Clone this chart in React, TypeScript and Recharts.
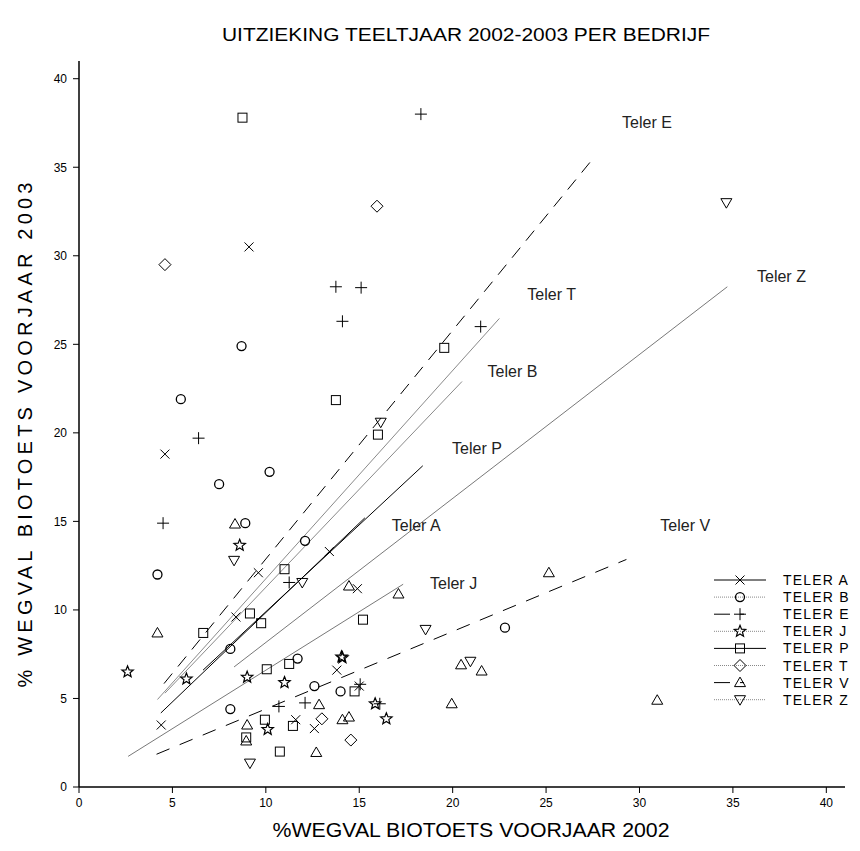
import React from 'react'
import {
  ScatterChart,
  Scatter,
  XAxis,
  YAxis,
  ReferenceLine,
  ReferenceDot,
} from 'recharts'

type Pt = { x: number; y: number }

// metingen per teler: x = % wegval 2002, y = % wegval 2003
const telerA: Pt[] = [
  { x: 9.1, y: 30.5 }, { x: 4.6, y: 18.8 }, { x: 13.4, y: 13.3 }, { x: 9.6, y: 12.1 },
  { x: 8.4, y: 9.6 }, { x: 4.4, y: 3.5 }, { x: 13.8, y: 6.6 }, { x: 11.6, y: 3.8 },
  { x: 12.6, y: 3.3 }, { x: 14.9, y: 11.2 }, { x: 15.0, y: 5.7 },
]
const telerB: Pt[] = [
  { x: 4.2, y: 12.0 }, { x: 5.45, y: 21.9 }, { x: 7.5, y: 17.1 }, { x: 8.1, y: 7.8 },
  { x: 8.1, y: 4.4 }, { x: 8.7, y: 24.9 }, { x: 8.9, y: 14.9 }, { x: 10.2, y: 17.8 },
  { x: 12.1, y: 13.9 }, { x: 11.7, y: 7.25 }, { x: 12.6, y: 5.7 }, { x: 14.0, y: 5.4 },
  { x: 22.8, y: 9.0 },
]
const telerE: Pt[] = [
  { x: 18.3, y: 38.0 }, { x: 13.75, y: 28.25 }, { x: 15.1, y: 28.2 }, { x: 14.1, y: 26.3 },
  { x: 21.5, y: 26.0 }, { x: 6.4, y: 19.7 }, { x: 4.5, y: 14.9 }, { x: 11.25, y: 11.55 },
  { x: 10.7, y: 4.55 }, { x: 12.1, y: 4.75 }, { x: 15.05, y: 5.8 }, { x: 16.1, y: 4.7 },
]
const telerJ: Pt[] = [
  { x: 2.6, y: 6.5 }, { x: 8.6, y: 13.65 }, { x: 5.75, y: 6.1 }, { x: 9.0, y: 6.2 },
  { x: 11.0, y: 5.9 }, { x: 10.1, y: 3.25 }, { x: 14.05, y: 7.35 }, { x: 14.1, y: 7.3 },
  { x: 15.85, y: 4.7 }, { x: 16.45, y: 3.85 },
]
const telerP: Pt[] = [
  { x: 8.75, y: 37.8 }, { x: 19.55, y: 24.8 }, { x: 13.75, y: 21.85 }, { x: 16.0, y: 19.9 },
  { x: 11.0, y: 12.3 }, { x: 9.15, y: 9.8 }, { x: 6.65, y: 8.7 }, { x: 9.75, y: 9.25 },
  { x: 10.05, y: 6.65 }, { x: 11.25, y: 6.95 }, { x: 9.95, y: 3.8 }, { x: 11.45, y: 3.45 },
  { x: 8.95, y: 2.8 }, { x: 10.75, y: 2.0 }, { x: 14.75, y: 5.4 }, { x: 15.2, y: 9.45 },
]
const telerT: Pt[] = [
  { x: 4.6, y: 29.5 }, { x: 15.95, y: 32.8 }, { x: 13.0, y: 3.85 }, { x: 14.55, y: 2.65 },
]
const telerV: Pt[] = [
  { x: 8.35, y: 14.85 }, { x: 4.2, y: 8.7 }, { x: 14.45, y: 11.35 }, { x: 17.1, y: 10.9 },
  { x: 25.15, y: 12.1 }, { x: 20.45, y: 6.9 }, { x: 21.55, y: 6.55 }, { x: 19.95, y: 4.7 },
  { x: 12.85, y: 4.65 }, { x: 14.1, y: 3.8 }, { x: 14.45, y: 3.95 }, { x: 12.7, y: 1.95 },
  { x: 9.0, y: 3.5 }, { x: 8.95, y: 2.6 }, { x: 30.95, y: 4.9 },
]
const telerZ: Pt[] = [
  { x: 34.65, y: 33.0 }, { x: 16.15, y: 20.6 }, { x: 8.3, y: 12.8 }, { x: 11.95, y: 11.55 },
  { x: 18.55, y: 8.9 }, { x: 20.95, y: 7.1 }, { x: 9.15, y: 1.35 },
]

const fitA = [{ x: 4.38, y: 4.18 }, { x: 15.3, y: 15.2 }]
const fitB = [{ x: 4.2, y: 4.94 }, { x: 22.5, y: 26.46 }]
const fitE = [{ x: 4.55, y: 5.84 }, { x: 27.6, y: 35.6 }]
const fitJ = [{ x: 2.63, y: 1.73 }, { x: 17.35, y: 11.45 }]
const fitP = [{ x: 6.64, y: 6.6 }, { x: 18.4, y: 18.14 }]
const fitT = [{ x: 4.6, y: 5.3 }, { x: 20.5, y: 22.9 }]
const fitV = [{ x: 4.15, y: 1.85 }, { x: 29.3, y: 12.85 }]
const fitZ = [{ x: 8.3, y: 6.78 }, { x: 34.7, y: 28.25 }]

const lineLabels = ['Teler E', 'Teler T', 'Teler Z', 'Teler B', 'Teler  P', 'Teler A', 'Teler V', 'Teler J']
const labelX = [30.4, 25.3, 37.6, 23.2, 21.3, 18.05, 32.45, 20.05]
const labelY = [37.55, 27.8, 28.85, 23.45, 19.1, 14.8, 14.8, 11.5]

const ticks = [0, 5, 10, 15, 20, 25, 30, 35, 40]
const legendNames = ['TELER A', 'TELER B', 'TELER E', 'TELER J', 'TELER P', 'TELER T', 'TELER V', 'TELER Z']

const FONT = '"Liberation Sans", Arial, sans-serif'

type Kind = 'x' | 'circle' | 'plus' | 'star' | 'square' | 'diamond' | 'up' | 'down'
const kinds: Kind[] = ['x', 'circle', 'plus', 'star', 'square', 'diamond', 'up', 'down']

function Marker({ kind, cx, cy }: { kind: Kind; cx: number; cy: number }) {
  const s = { stroke: '#000', strokeWidth: 1, fill: 'none' }
  switch (kind) {
    case 'x':
      return <path d={`M${cx - 4.5},${cy - 4.5}L${cx + 4.5},${cy + 4.5}M${cx - 4.5},${cy + 4.5}L${cx + 4.5},${cy - 4.5}`} {...s} />
    case 'circle':
      return <circle cx={cx} cy={cy} r={4.5} {...s} strokeWidth={1.3} />
    case 'plus':
      return <path d={`M${cx - 6},${cy}L${cx + 6},${cy}M${cx},${cy - 6}L${cx},${cy + 6}`} {...s} />
    case 'star': {
      const pts: string[] = []
      for (let i = 0; i < 10; i++) {
        const r = i % 2 === 0 ? 6 : 2.6
        const a = -Math.PI / 2 + (i * Math.PI) / 5
        pts.push(`${cx + r * Math.cos(a)},${cy + r * Math.sin(a)}`)
      }
      return <polygon points={pts.join(' ')} {...s} strokeWidth={1.2} />
    }
    case 'square':
      return <rect x={cx - 4.5} y={cy - 4.5} width={9} height={9} {...s} />
    case 'diamond':
      return <polygon points={`${cx},${cy - 6} ${cx + 6},${cy} ${cx},${cy + 6} ${cx - 6},${cy}`} {...s} />
    case 'up':
      return <polygon points={`${cx},${cy - 5.5} ${cx + 5.5},${cy + 4} ${cx - 5.5},${cy + 4}`} {...s} />
    case 'down':
      return <polygon points={`${cx},${cy + 5.5} ${cx + 5.5},${cy - 4} ${cx - 5.5},${cy - 4}`} {...s} />
  }
  return null
}

const shapeFor = (kind: Kind) => (props: any) => <Marker kind={kind} cx={props.cx} cy={props.cy} />

const series: { name: string; data: Pt[]; kind: Kind }[] = [
  { name: 'TELER A', data: telerA, kind: 'x' },
  { name: 'TELER B', data: telerB, kind: 'circle' },
  { name: 'TELER E', data: telerE, kind: 'plus' },
  { name: 'TELER J', data: telerJ, kind: 'star' },
  { name: 'TELER P', data: telerP, kind: 'square' },
  { name: 'TELER T', data: telerT, kind: 'diamond' },
  { name: 'TELER V', data: telerV, kind: 'up' },
  { name: 'TELER Z', data: telerZ, kind: 'down' },
]

const fits = [
  { seg: fitA, stroke: '#000', width: 1, dash: undefined },
  { seg: fitB, stroke: '#8a8a8a', width: 1, dash: undefined },
  { seg: fitE, stroke: '#000', width: 1, dash: '13 9' },
  { seg: fitJ, stroke: '#555', width: 0.8, dash: undefined },
  { seg: fitP, stroke: '#000', width: 1, dash: undefined },
  { seg: fitT, stroke: '#8a8a8a', width: 1, dash: undefined },
  { seg: fitV, stroke: '#000', width: 1, dash: '14 11' },
  { seg: fitZ, stroke: '#555', width: 0.8, dash: undefined },
]

const legendDash = [undefined, '1 1', '16 10 4 30', '1 1', undefined, '1 1', '16 10 4 30', '1 1']
const legendStroke = ['#000', '#888', '#000', '#888', '#000', '#888', '#000', '#888']

function LegendBox() {
  return (
    <svg width={170} height={150} style={{ position: 'absolute', left: 700, top: 560 }}>
      {legendNames.map((n, i) => {
        const y = 12 + i * 17.1
        return (
          <g key={n}>
            <line x1={6} x2={58} y1={y} y2={y} stroke={legendStroke[i]} strokeWidth={1} strokeDasharray={legendDash[i]} />
            <Marker kind={kinds[i]} cx={32} cy={y} />
            <text x={75} y={y + 5} fontSize={14} fontFamily={FONT} letterSpacing={1.2} fill="#000">{n}</text>
          </g>
        )
      })}
    </svg>
  )
}

function Titles() {
  return (
    <svg width={852} height={843} style={{ position: 'absolute', left: 0, top: 0, pointerEvents: 'none' }}>
      <text x={458} y={33} textAnchor="middle" fontSize={18} fontFamily={FONT} textLength={488} lengthAdjust="spacingAndGlyphs" fill="#000">
        UITZIEKING TEELTJAAR 2002-2003 PER BEDRIJF
      </text>
      <text x={463} y={829} textAnchor="middle" fontSize={20} fontFamily={FONT} textLength={397} lengthAdjust="spacingAndGlyphs" fill="#000">
        %WEGVAL BIOTOETS VOORJAAR 2002
      </text>
      <text
        x={0}
        y={0}
        transform="translate(24,427) rotate(-90)"
        textAnchor="middle"
        fontSize={20}
        fontFamily={FONT}
        textLength={505}
        lengthAdjust="spacing"
        fill="#000"
      >
        % WEGVAL BIOTOETS VOORJAAR 2003
      </text>
    </svg>
  )
}

export default function App() {
  return (
    <div style={{ position: 'relative', width: 852, height: 843, background: '#fff' }}>
      <ScatterChart
        width={852}
        height={843}
        margin={{ top: 53, right: 15, left: 11, bottom: 34 }}
        style={{ fontFamily: FONT }}
      >
        <XAxis
          type="number"
          dataKey="x"
          domain={[0, 41]}
          ticks={ticks}
          allowDataOverflow
          height={30}
          tickSize={6}
          tickMargin={5}
          axisLine={{ stroke: '#000', strokeWidth: 1.5 }}
          tickLine={{ stroke: '#000', strokeWidth: 1 }}
          tick={{ fontSize: 12, fill: '#000', fontFamily: FONT }}
        />
        <YAxis
          type="number"
          dataKey="y"
          domain={[0, 41]}
          ticks={ticks}
          allowDataOverflow
          width={60}
          tickSize={6}
          tickMargin={6}
          axisLine={{ stroke: '#000', strokeWidth: 1.5 }}
          tickLine={{ stroke: '#000', strokeWidth: 1 }}
          tick={{ fontSize: 12, fill: '#000', fontFamily: FONT }}
        />
        {fits.map((f, i) => (
          <ReferenceLine
            key={'fit' + i}
            segment={f.seg}
            stroke={f.stroke}
            strokeWidth={f.width}
            strokeDasharray={f.dash}
            ifOverflow="visible"
          />
        ))}
        {series.map((s) => (
          <Scatter key={s.name} name={s.name} data={s.data} shape={shapeFor(s.kind)} isAnimationActive={false} />
        ))}
        {lineLabels.map((t, i) => (
          <ReferenceDot
            key={t}
            x={labelX[i]}
            y={labelY[i]}
            r={0}
            fill="none"
            stroke="none"
            ifOverflow="visible"
            label={{ value: t, position: 'center', fontSize: 16, fill: '#222', fontFamily: FONT, style: { whiteSpace: 'pre' } } as any}
          />
        ))}
      </ScatterChart>
      <Titles />
      <LegendBox />
    </div>
  )
}
